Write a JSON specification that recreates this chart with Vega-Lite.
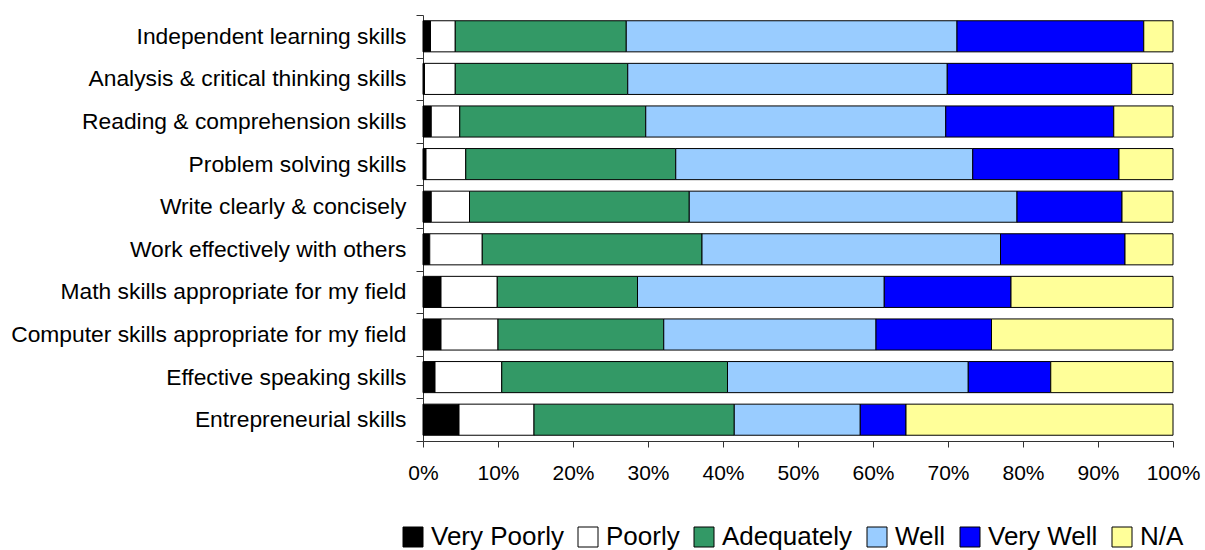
{
  "$schema": "https://vega.github.io/schema/vega-lite/v6.json",
  "width": 750,
  "height": 426,
  "autosize": {"type": "none"},
  "padding": {"left": 423, "top": 15, "right": 32, "bottom": 109},
  "background": "white",
  "config": {
    "view": {"stroke": null},
    "font": "Liberation Sans",
    "axis": {"labelFont": "Liberation Sans", "labelColor": "black", "domainColor": "#333333", "tickColor": "#333333", "grid": false, "title": null},
    "legend": {"labelFont": "Liberation Sans", "labelColor": "black"}
  },
  "data": {
    "values": [
      {"s": "Independent learning skills", "r": "Very Poorly", "v": 1.0},
      {"s": "Independent learning skills", "r": "Poorly", "v": 3.3},
      {"s": "Independent learning skills", "r": "Adequately", "v": 22.8},
      {"s": "Independent learning skills", "r": "Well", "v": 44.1},
      {"s": "Independent learning skills", "r": "Very Well", "v": 24.9},
      {"s": "Independent learning skills", "r": "N/A", "v": 3.9},
      {"s": "Analysis & critical thinking skills", "r": "Very Poorly", "v": 0.2},
      {"s": "Analysis & critical thinking skills", "r": "Poorly", "v": 4.1},
      {"s": "Analysis & critical thinking skills", "r": "Adequately", "v": 23.0},
      {"s": "Analysis & critical thinking skills", "r": "Well", "v": 42.6},
      {"s": "Analysis & critical thinking skills", "r": "Very Well", "v": 24.6},
      {"s": "Analysis & critical thinking skills", "r": "N/A", "v": 5.5},
      {"s": "Reading & comprehension skills", "r": "Very Poorly", "v": 1.1},
      {"s": "Reading & comprehension skills", "r": "Poorly", "v": 3.8},
      {"s": "Reading & comprehension skills", "r": "Adequately", "v": 24.8},
      {"s": "Reading & comprehension skills", "r": "Well", "v": 40.0},
      {"s": "Reading & comprehension skills", "r": "Very Well", "v": 22.4},
      {"s": "Reading & comprehension skills", "r": "N/A", "v": 7.9},
      {"s": "Problem solving skills", "r": "Very Poorly", "v": 0.4},
      {"s": "Problem solving skills", "r": "Poorly", "v": 5.3},
      {"s": "Problem solving skills", "r": "Adequately", "v": 28.0},
      {"s": "Problem solving skills", "r": "Well", "v": 39.6},
      {"s": "Problem solving skills", "r": "Very Well", "v": 19.5},
      {"s": "Problem solving skills", "r": "N/A", "v": 7.2},
      {"s": "Write clearly & concisely", "r": "Very Poorly", "v": 1.1},
      {"s": "Write clearly & concisely", "r": "Poorly", "v": 5.1},
      {"s": "Write clearly & concisely", "r": "Adequately", "v": 29.3},
      {"s": "Write clearly & concisely", "r": "Well", "v": 43.7},
      {"s": "Write clearly & concisely", "r": "Very Well", "v": 14.0},
      {"s": "Write clearly & concisely", "r": "N/A", "v": 6.8},
      {"s": "Work effectively with others", "r": "Very Poorly", "v": 0.9},
      {"s": "Work effectively with others", "r": "Poorly", "v": 7.0},
      {"s": "Work effectively with others", "r": "Adequately", "v": 29.3},
      {"s": "Work effectively with others", "r": "Well", "v": 39.8},
      {"s": "Work effectively with others", "r": "Very Well", "v": 16.6},
      {"s": "Work effectively with others", "r": "N/A", "v": 6.4},
      {"s": "Math skills appropriate for my field", "r": "Very Poorly", "v": 2.4},
      {"s": "Math skills appropriate for my field", "r": "Poorly", "v": 7.5},
      {"s": "Math skills appropriate for my field", "r": "Adequately", "v": 18.7},
      {"s": "Math skills appropriate for my field", "r": "Well", "v": 32.9},
      {"s": "Math skills appropriate for my field", "r": "Very Well", "v": 16.9},
      {"s": "Math skills appropriate for my field", "r": "N/A", "v": 21.6},
      {"s": "Computer skills appropriate for my field", "r": "Very Poorly", "v": 2.4},
      {"s": "Computer skills appropriate for my field", "r": "Poorly", "v": 7.6},
      {"s": "Computer skills appropriate for my field", "r": "Adequately", "v": 22.1},
      {"s": "Computer skills appropriate for my field", "r": "Well", "v": 28.3},
      {"s": "Computer skills appropriate for my field", "r": "Very Well", "v": 15.4},
      {"s": "Computer skills appropriate for my field", "r": "N/A", "v": 24.2},
      {"s": "Effective speaking skills", "r": "Very Poorly", "v": 1.6},
      {"s": "Effective speaking skills", "r": "Poorly", "v": 8.9},
      {"s": "Effective speaking skills", "r": "Adequately", "v": 30.1},
      {"s": "Effective speaking skills", "r": "Well", "v": 32.1},
      {"s": "Effective speaking skills", "r": "Very Well", "v": 11.0},
      {"s": "Effective speaking skills", "r": "N/A", "v": 16.3},
      {"s": "Entrepreneurial skills", "r": "Very Poorly", "v": 4.8},
      {"s": "Entrepreneurial skills", "r": "Poorly", "v": 10.0},
      {"s": "Entrepreneurial skills", "r": "Adequately", "v": 26.7},
      {"s": "Entrepreneurial skills", "r": "Well", "v": 16.8},
      {"s": "Entrepreneurial skills", "r": "Very Well", "v": 6.1},
      {"s": "Entrepreneurial skills", "r": "N/A", "v": 35.6}
    ]
  },
  "transform": [
    {"calculate": "indexof(['Very Poorly','Poorly','Adequately','Well','Very Well','N/A'], datum.r)", "as": "rk"}
  ],
  "mark": {"type": "bar", "stroke": "black", "strokeWidth": 1, "height": {"band": 0.73}},
  "encoding": {
    "y": {
      "field": "s",
      "type": "nominal",
      "sort": ["Independent learning skills", "Analysis & critical thinking skills", "Reading & comprehension skills", "Problem solving skills", "Write clearly & concisely", "Work effectively with others", "Math skills appropriate for my field", "Computer skills appropriate for my field", "Effective speaking skills", "Entrepreneurial skills"],
      "scale": {"paddingInner": 0, "paddingOuter": 0},
      "axis": {"tickBand": "extent", "tickSize": 7, "labelPadding": 10, "labelFontSize": 22.8, "labelLimit": 0, "domainWidth": 1}
    },
    "x": {
      "field": "v",
      "type": "quantitative",
      "stack": "normalize",
      "scale": {"domain": [0, 1], "nice": false},
      "axis": {"values": [0, 0.1, 0.2, 0.3, 0.4, 0.5, 0.6, 0.7, 0.8, 0.9, 1], "format": ".0%", "tickSize": 6, "labelPadding": 15, "labelFontSize": 21, "labelFlush": false}
    },
    "color": {
      "field": "r",
      "type": "nominal",
      "scale": {"domain": ["Very Poorly", "Poorly", "Adequately", "Well", "Very Well", "N/A"], "range": ["#000000", "#FFFFFF", "#339966", "#99CCFF", "#0000FF", "#FFFF99"]},
      "legend": {"orient": "none", "legendX": -23, "legendY": 509, "direction": "horizontal", "columns": 6, "title": null, "symbolType": "square", "symbolSize": 400, "symbolStrokeColor": "black", "symbolStrokeWidth": 1, "labelFontSize": 26, "labelOffset": 5, "columnPadding": 11, "padding": 0}
    },
    "order": {"field": "rk", "type": "quantitative"}
  }
}
